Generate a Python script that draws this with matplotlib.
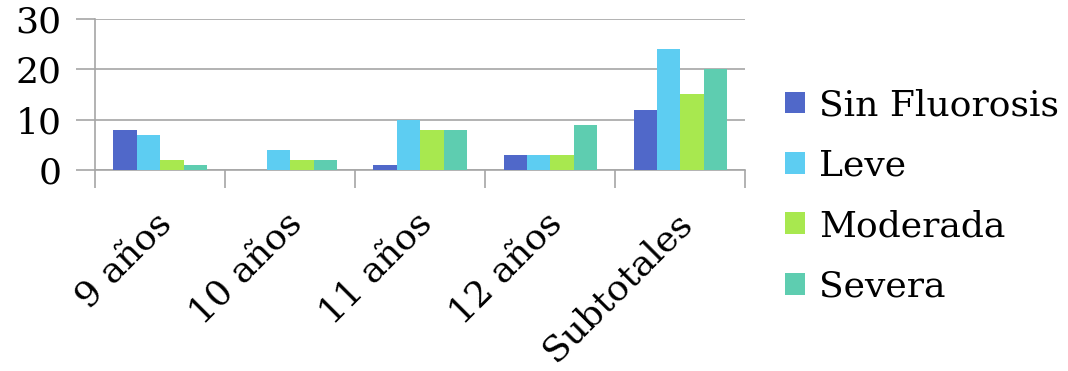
import matplotlib.pyplot as plt
import matplotlib.transforms as mtransforms
import numpy as np

categories = ["9 años", "10 años", "11 años", "12 años", "Subtotales"]
series_names = ["Sin Fluorosis", "Leve", "Moderada", "Severa"]
sin_fluorosis = [8, 0, 1, 3, 12]
leve = [7, 4, 10, 3, 24]
moderada = [2, 2, 8, 3, 15]
severa = [1, 2, 8, 9, 20]
colors = ["#5068C9", "#5DCDF2", "#A8E84F", "#5ECDB0"]

plt.rcParams['font.family'] = ['DejaVu Serif']

fig = plt.figure(figsize=(10.68, 3.71), dpi=100)
ax = fig.add_axes([0.089, 0.542, 0.609, 0.407])

x = np.arange(len(categories))
bw = 0.18
all_series = [sin_fluorosis, leve, moderada, severa]
for i, vals in enumerate(all_series):
    ax.bar(x + (i - 1.5) * bw, vals, width=bw, color=colors[i],
           label=series_names[i], zorder=3)

ax.set_xlim(-0.5, len(categories) - 0.5)
ax.set_ylim(0, 30)
ax.set_yticks([0, 10, 20, 30])
ax.yaxis.grid(True, color="#A6A6A6", linewidth=1.2, zorder=0)
ax.tick_params(axis="y", length=14, width=1.2, color="#A6A6A6",
               labelsize=26, pad=10)

# category labels go on minor ticks, boundaries get the tick marks
ax.set_xticks(np.arange(len(categories) + 1) - 0.5)
ax.set_xticklabels([])
ax.tick_params(axis="x", which="major", length=13, width=1.2, color="#A6A6A6")
ax.set_xticks(x, minor=True)
ax.set_xticklabels(categories, minor=True, rotation=45, ha="right",
                   rotation_mode="anchor", fontsize=26)
ax.tick_params(axis="x", which="minor", length=0, pad=26)
shift = mtransforms.ScaledTranslation(-6 / 100, 0, fig.dpi_scale_trans)
for lbl in ax.get_xticklabels(minor=True):
    lbl.set_transform(lbl.get_transform() + shift)

for s in ["top", "right"]:
    ax.spines[s].set_visible(False)
for s in ["left", "bottom"]:
    ax.spines[s].set_color("#A6A6A6")
    ax.spines[s].set_linewidth(1.2)

fig.legend(loc="center left", bbox_to_anchor=(0.735, 0.472), frameon=False,
           fontsize=26, handlelength=0.55, handleheight=0.55,
           handletextpad=0.4, labelspacing=0.73, borderaxespad=0,
           borderpad=0)

fig.savefig("out.png", dpi=100)
